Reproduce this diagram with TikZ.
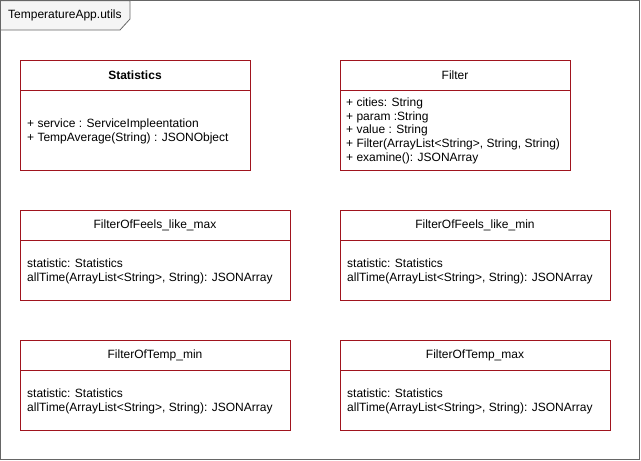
\documentclass[tikz,border=0pt]{standalone}
\usepackage{fontspec}
\setmainfont{Liberation Sans}
\definecolor{umlred}{RGB}{160,20,30}
\definecolor{framegray}{RGB}{102,102,102}
\definecolor{tabfill}{RGB}{245,245,245}
\begin{document}
\begin{tikzpicture}[x=1pt,y=-1pt,
  classbox/.style={draw=umlred, line width=0.9pt, fill=white, rectangle, inner sep=0pt, anchor=north west},
  sep/.style={draw=umlred, line width=0.9pt},
  title/.style={font=\fontsize{12}{14}\selectfont, inner sep=0pt, anchor=center},
  member/.style={font=\fontsize{12}{13.8}\selectfont, inner sep=0pt, anchor=west, align=left}]
\useasboundingbox (0,0) rectangle (641,461);
% package frame
\node[draw=framegray, line width=0.8pt, rectangle, inner sep=0pt, outer sep=0pt, minimum width=639pt, minimum height=459pt, anchor=north west] (pkg) at (0.6,0.6) {};
\filldraw[fill=tabfill, draw=framegray, line width=0.8pt] (pkg.north west) -- (130,0.6) -- (130,19) -- (120,30) -- (0.6,30) -- cycle;
\node[font=\fontsize{12}{14}\selectfont, inner sep=0pt, anchor=west] (pkgname) at (8,15) {TemperatureApp.utils};

% Statistics
\node[classbox, minimum width=230pt, minimum height=110pt] (stat) at (20,60) {};
\coordinate (statL) at (20,90); \coordinate (statR) at (250,90);
\draw[sep] (statL) -- (statR);
\node[title, font=\fontsize{12}{14}\selectfont\bfseries] (statT) at (135,75) {Statistics};
\node[member] (statM) at (27,131) {+ service : ServiceImpleentation\\+ TempAverage(String) : JSONObject};

% Filter
\node[classbox, minimum width=230pt, minimum height=110pt] (filt) at (340,60) {};
\coordinate (filtL) at (340,90); \coordinate (filtR) at (570,90);
\draw[sep] (filtL) -- (filtR);
\node[title] (filtT) at (455,75) {Filter};
\node[member, anchor=north west] (filtM) at (346,97.5) {+ cities: String\\+ param :String\\+ value : String\\+ Filter(ArrayList<String>, String, String)\\+ examine(): JSONArray};

% FilterOfFeels_like_max
\node[classbox, minimum width=270pt, minimum height=90pt] (flmax) at (20,210) {};
\coordinate (flmaxL) at (20,240); \coordinate (flmaxR) at (290,240);
\draw[sep] (flmaxL) -- (flmaxR);
\node[title] (flmaxT) at (155,225) {FilterOfFeels\_like\_max};
\node[member] (flmaxM) at (27,271.5) {statistic: Statistics\\allTime(ArrayList<String>, String): JSONArray};

% FilterOfFeels_like_min
\node[classbox, minimum width=270pt, minimum height=90pt] (flmin) at (340,210) {};
\coordinate (flminL) at (340,240); \coordinate (flminR) at (610,240);
\draw[sep] (flminL) -- (flminR);
\node[title] (flminT) at (475,225) {FilterOfFeels\_like\_min};
\node[member] (flminM) at (347,271.5) {statistic: Statistics\\allTime(ArrayList<String>, String): JSONArray};

% FilterOfTemp_min
\node[classbox, minimum width=270pt, minimum height=90pt] (tmin) at (20,340) {};
\coordinate (tminL) at (20,370); \coordinate (tminR) at (290,370);
\draw[sep] (tminL) -- (tminR);
\node[title] (tminT) at (155,355) {FilterOfTemp\_min};
\node[member] (tminM) at (27,401.5) {statistic: Statistics\\allTime(ArrayList<String>, String): JSONArray};

% FilterOfTemp_max
\node[classbox, minimum width=270pt, minimum height=90pt] (tmax) at (340,340) {};
\coordinate (tmaxL) at (340,370); \coordinate (tmaxR) at (610,370);
\draw[sep] (tmaxL) -- (tmaxR);
\node[title] (tmaxT) at (475,355) {FilterOfTemp\_max};
\node[member] (tmaxM) at (347,401.5) {statistic: Statistics\\allTime(ArrayList<String>, String): JSONArray};
\end{tikzpicture}
\end{document}
